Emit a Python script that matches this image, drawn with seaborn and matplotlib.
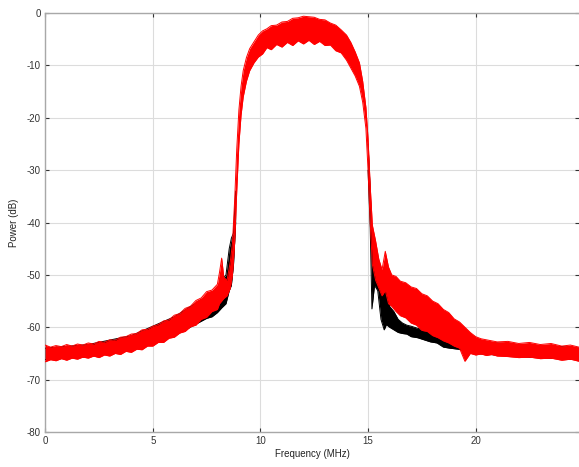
import numpy as np
import pandas as pd
import matplotlib
matplotlib.use("Agg")
import matplotlib.pyplot as plt
import seaborn as sns

# Red trace: noise envelope (low / high)
red_freq = [0, 0.25, 0.5, 0.75, 1.0, 1.25, 1.5, 1.75, 2.0, 2.25, 2.5, 2.75, 3.0, 3.25, 3.5,
            3.75, 4.0, 4.25, 4.5, 4.75, 5.0, 5.25, 5.5, 5.75, 6.0, 6.25, 6.5, 6.75, 7.0, 7.25,
            7.5, 7.75, 8.0, 8.1, 8.2, 8.3, 8.45, 8.6, 8.7, 8.8, 8.9, 9.0, 9.1, 9.2, 9.35, 9.5,
            9.7, 9.9, 10.1, 10.3, 10.5, 10.75, 11.0, 11.25, 11.5, 11.75, 12.0, 12.25, 12.5,
            12.75, 13.0, 13.25, 13.5, 13.75, 14.0, 14.2, 14.4, 14.6, 14.75, 14.9, 15.0, 15.1,
            15.2, 15.35, 15.5, 15.65, 15.8, 15.95, 16.1, 16.3, 16.5, 16.75, 17.0, 17.25, 17.5,
            17.75, 18.0, 18.25, 18.5, 18.75, 19.0, 19.25, 19.5, 19.75, 20.0, 20.25, 20.5,
            20.75, 21.0, 21.5, 22.0, 22.5, 23.0, 23.5, 24.0, 24.4, 24.8]
red_low = [-66.6, -66.2, -66.4, -66.0, -66.3, -65.9, -66.1, -65.7, -65.9, -65.5, -65.8, -65.3,
           -65.5, -65.0, -65.2, -64.6, -64.8, -64.2, -64.3, -63.6, -63.6, -62.9, -62.9, -62.1,
           -61.9, -61.1, -60.8, -59.9, -59.6, -58.5, -58.1, -57.0, -56.6, -55.5, -55.0, -54.5,
           -54.0, -52.5, -50.0, -44.0, -34.0, -25.0, -19.5, -16.0, -13.0, -11.0, -9.5, -8.4,
           -7.8, -6.6, -7.0, -6.0, -6.5, -5.6, -6.2, -5.3, -5.9, -5.2, -6.0, -5.4, -6.2, -6.1,
           -7.2, -7.6, -9.0, -10.5, -12.0, -14.0, -17.0, -22.0, -30.0, -40.0, -48.0, -51.0,
           -52.5, -54.0, -53.0, -55.5, -56.0, -57.0, -57.8, -58.2, -59.2, -59.6, -60.6, -60.8,
           -61.6, -62.0, -62.6, -63.0, -63.6, -64.0, -66.5, -65.0, -65.3, -65.1, -65.4, -65.2,
           -65.5, -65.6, -65.8, -65.7, -66.0, -65.9, -66.3, -66.1, -66.5]
red_high = [-63.4, -63.8, -63.5, -63.7, -63.3, -63.6, -63.2, -63.4, -63.0, -63.2, -62.7, -62.9,
            -62.4, -62.5, -61.9, -61.8, -61.3, -61.2, -60.5, -60.4, -59.8, -59.5, -58.8, -58.6,
            -57.7, -57.4, -56.4, -56.0, -54.9, -54.4, -53.2, -52.9, -51.8, -49.5, -46.8, -50.5,
            -51.0, -47.5, -44.0, -36.0, -26.0, -18.5, -14.0, -11.0, -8.5, -6.8, -5.5, -4.2,
            -3.4, -3.0, -2.4, -2.3, -1.7, -1.6, -1.0, -0.9, -0.6, -0.7, -0.8, -1.2, -1.3, -1.9,
            -2.3, -3.2, -4.2, -5.6, -7.4, -9.5, -13.0, -18.0, -24.0, -33.0, -40.5, -43.5,
            -47.0, -49.0, -45.5, -48.5, -50.0, -50.3, -51.2, -51.5, -52.3, -52.6, -53.6, -54.0,
            -55.0, -55.5, -56.6, -57.2, -58.4, -59.0, -60.0, -61.0, -61.8, -62.2, -62.4, -62.6,
            -62.8, -62.7, -63.1, -62.9, -63.3, -63.1, -63.6, -63.4, -63.8]

# Black trace, lower band (left skirt)
black_left_freq = [0, 2, 4, 6, 7.0, 7.5, 7.75, 8.0, 8.2, 8.4, 8.55, 8.65, 8.75, 8.85]
black_left_low = [-66.2, -65.6, -64.4, -61.6, -59.4, -58.3, -58.0, -57.2, -56.3, -55.5, -53.0,
                  -52.0, -48.0, -40.0]
black_left_high = [-64.0, -63.3, -61.6, -58.0, -55.4, -54.0, -53.5, -52.5, -51.0, -50.0, -45.0,
                   -43.0, -42.0, -34.0]

# Black trace, right skirt
black_right_freq = [15.0, 15.1, 15.18, 15.3, 15.45, 15.6, 15.75, 15.85, 16.0, 16.2, 16.4, 16.6,
                    16.8, 17.0, 17.3, 17.6, 17.9, 18.2, 18.5, 18.8, 19.2, 19.6, 20.0, 21.0,
                    22.0, 23.0, 24.0, 24.8]
black_right_low = [-30.0, -41.0, -56.5, -52.0, -53.0, -58.5, -60.5, -59.5, -60.0, -60.5, -61.0,
                   -61.2, -61.3, -61.8, -62.0, -62.4, -62.8, -63.0, -63.8, -64.0, -64.2, -64.6,
                   -65.0, -65.3, -65.6, -65.8, -66.0, -66.2]
black_right_high = [-25.0, -34.0, -42.0, -44.0, -47.0, -50.0, -52.0, -53.0, -56.0, -57.0, -58.5,
                    -59.2, -59.6, -59.8, -60.2, -60.4, -60.8, -61.0, -61.4, -61.8, -62.2, -62.6,
                    -62.8, -63.0, -63.3, -63.5, -63.7, -64.0]

x_ticks = [0, 5, 10, 15, 20]
y_ticks = [0, -10, -20, -30, -40, -50, -60, -70, -80]

sns.set_style("whitegrid")
plt.rcParams['font.family'] = ['Liberation Sans', 'DejaVu Sans']
plt.rcParams['axes.unicode_minus'] = False

fig = plt.figure(figsize=(5.79, 4.67), dpi=100)
ax = fig.add_axes([0.078, 0.075, 0.922, 0.897])

bands = [
    (pd.DataFrame({"f": black_left_freq, "lo": black_left_low, "hi": black_left_high}), "black"),
    (pd.DataFrame({"f": black_right_freq, "lo": black_right_low, "hi": black_right_high}), "black"),
    (pd.DataFrame({"f": red_freq, "lo": red_low, "hi": red_high}), "#ff0000"),
]

for df, col in bands:
    ax.fill_between(df["f"], df["lo"], df["hi"], color=col, linewidth=0, zorder=3)
    sns.lineplot(data=df, x="f", y="lo", color=col, lw=0.7, ax=ax, zorder=3)
    sns.lineplot(data=df, x="f", y="hi", color=col, lw=0.7, ax=ax, zorder=3)

ax.set_xlim(0, 24.8)
ax.set_ylim(-80, 0)
ax.set_xticks(x_ticks)
ax.set_yticks(y_ticks)
ax.set_xticklabels([str(t) for t in x_ticks])
ax.set_yticklabels([str(t) for t in y_ticks])
ax.grid(True, color="#dcdcdc", lw=0.8)
for s in ax.spines.values():
    s.set_color("#a8a8a8")
    s.set_linewidth(1.0)
ax.spines["right"].set_visible(False)
ax.tick_params(axis="both", direction="in", length=3, labelsize=7, colors="#333333",
               left=True, bottom=True, top=True, right=True, pad=3)
ax.set_xlabel("Frequency (MHz)", fontsize=7, color="#222222", labelpad=2)
ax.set_ylabel("Power (dB)", fontsize=7, color="#222222", labelpad=6)

fig.savefig("out.png", dpi=100)
